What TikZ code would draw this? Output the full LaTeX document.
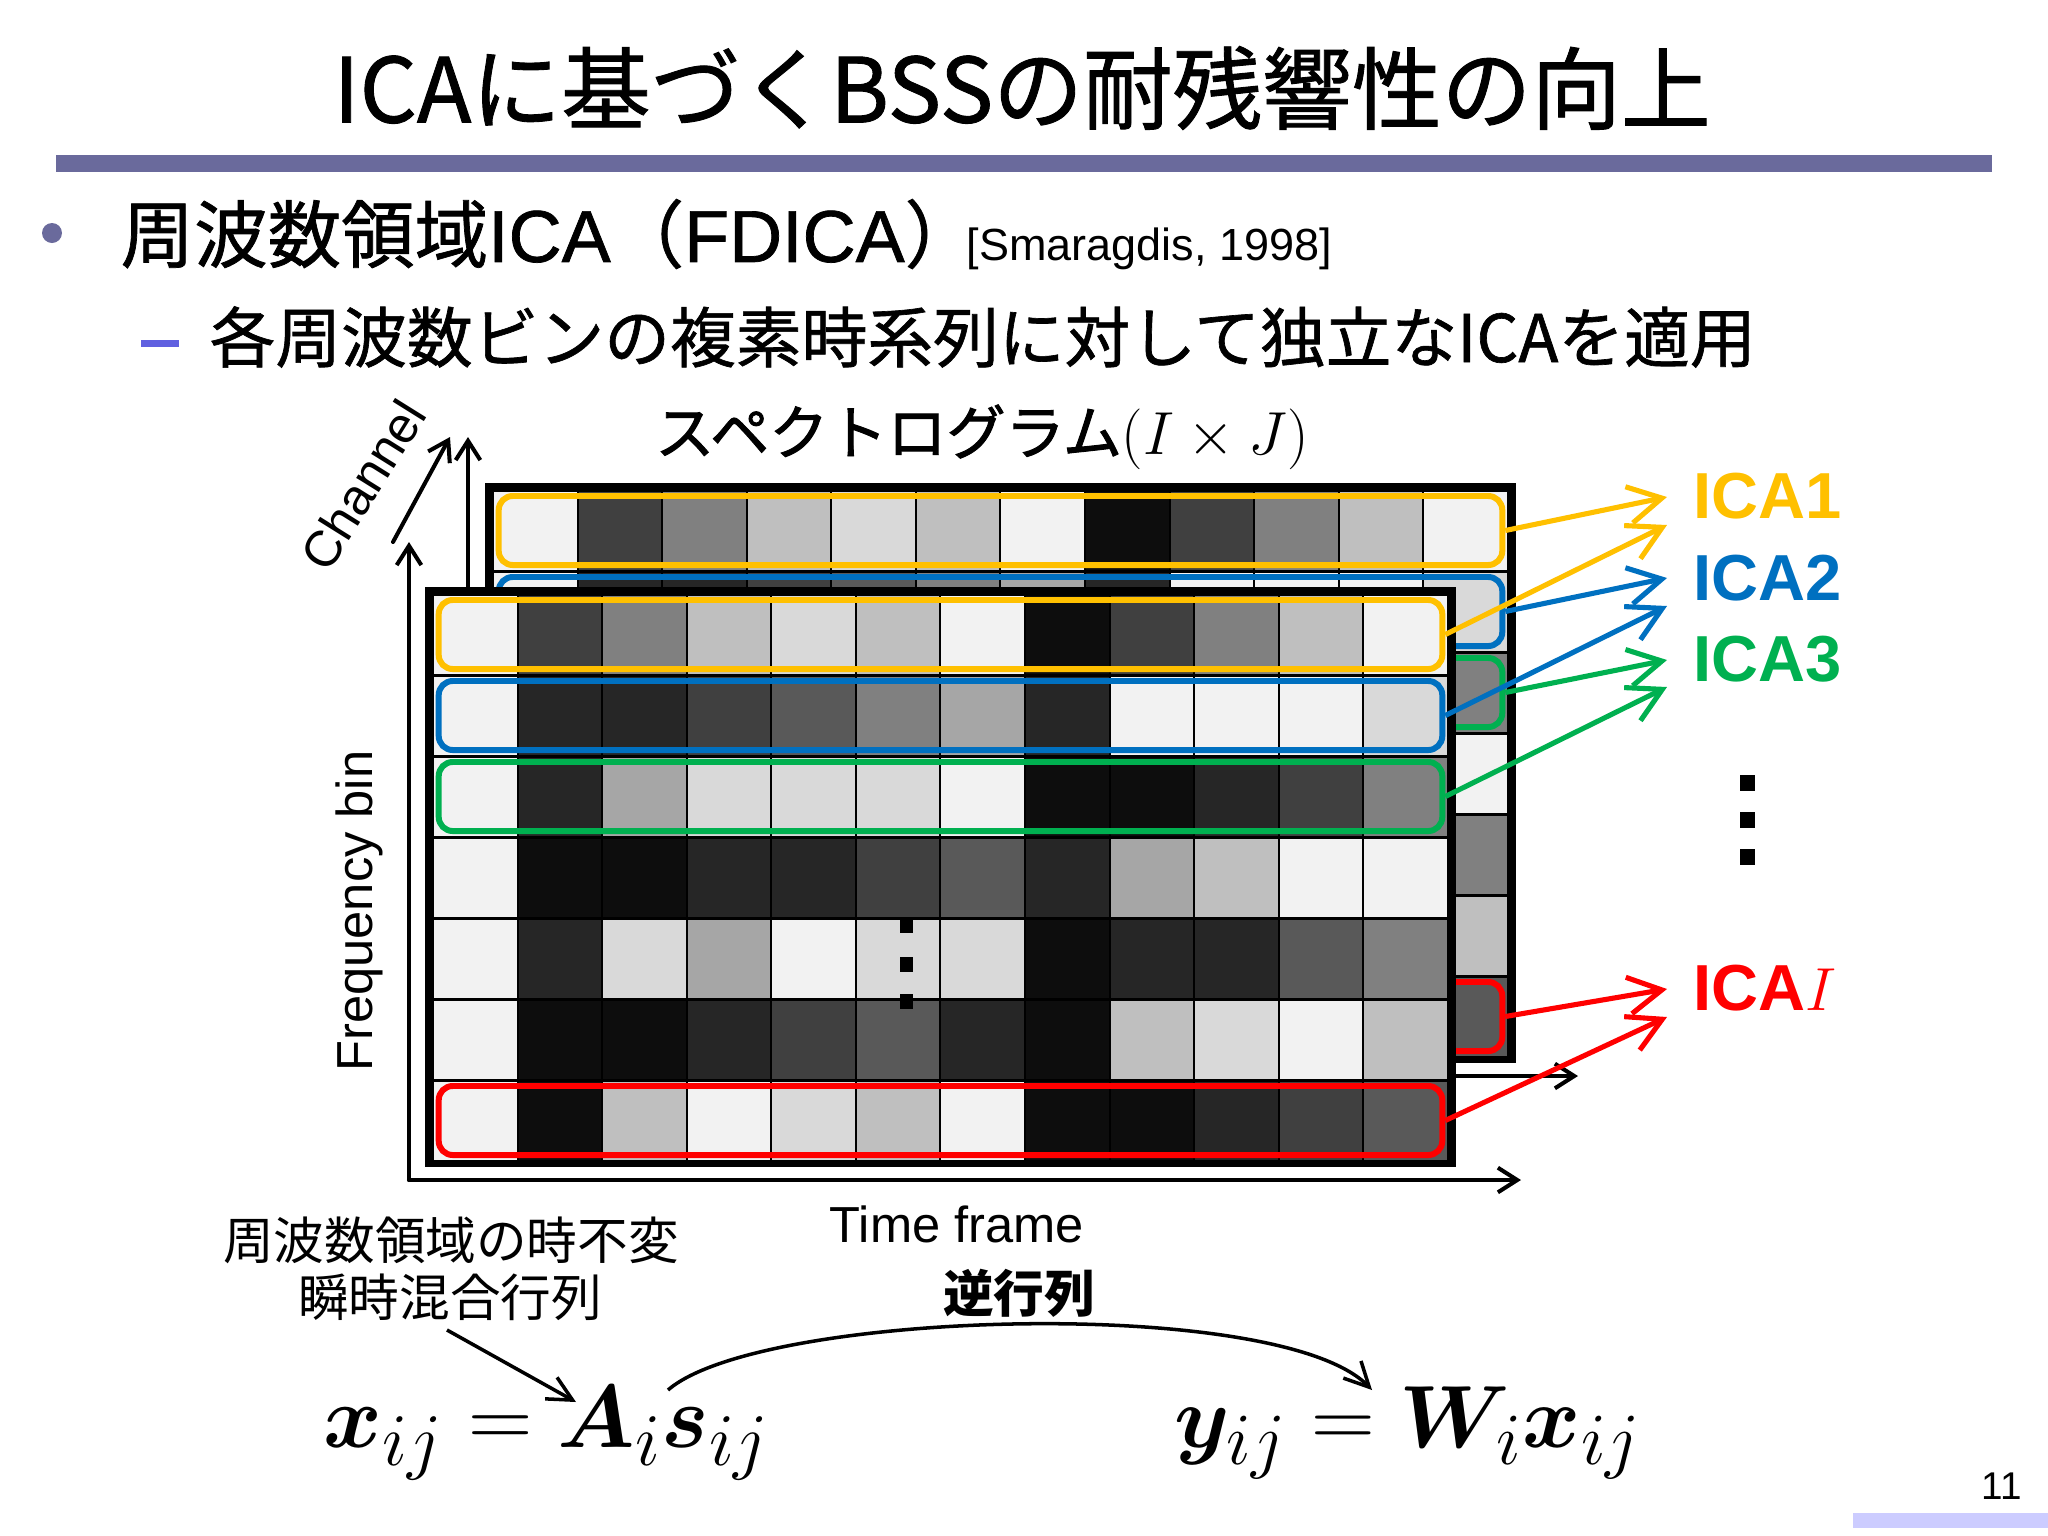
\documentclass[tikz,border=0pt]{standalone}
\usepackage{amsmath}
\usepackage{bm}
\usepackage{graphicx}
\usepackage{fontspec}
\newfontfamily\jp{Noto Sans CJK JP}
\newfontfamily\jpm[FakeBold=1]{Noto Sans CJK JP}
\newfontfamily\jpk[FakeBold=1.6]{Noto Sans CJK JP}
\newfontfamily\arial{Liberation Sans}
\newfontfamily\arialm[FakeBold=1]{Liberation Sans}
\usetikzlibrary{arrows.meta}
\definecolor{slate}{HTML}{6A6A9C}
\definecolor{dashc}{HTML}{6060E0}
\definecolor{pgbar}{HTML}{CCCCFF}
\definecolor{icay}{HTML}{FFC000}
\definecolor{icab}{HTML}{0070C0}
\definecolor{icag}{HTML}{00B050}
\definecolor{icar}{HTML}{FF0000}
\newcommand\fs[1]{\fontsize{#1pt}{#1pt}\selectfont}
\tikzset{
  axisarr/.style={line width=1.15pt, line cap=round, -{Straight Barb[length=5.5pt,width=7pt]}},
  icaarr/.style={line width=1.45pt, -{Straight Barb[length=9.5pt,width=10.5pt]}},
  thinarr/.style={line width=1pt, -{Straight Barb[length=7pt,width=7pt]}},
  rowbox/.style={draw, line width=1.7pt, rounded corners=4pt, minimum width=10.03cm, minimum height=0.69cm, inner sep=0pt},
  sqdot/.style={fill=black}
}
\newcommand\spgrid[2]{%
  \fill[black] ({425+#1},{587+#2}) rectangle ({1456+#1},{1167+#2});
  \foreach \ri/\vals in {1/{5,75,50,25,15,25,5,95,75,50,25,5},
                         2/{5,85,85,75,65,50,35,85,5,5,5,15},
                         3/{5,85,35,15,15,15,5,95,95,85,75,50},
                         4/{5,95,95,85,85,75,65,85,35,25,5,5},
                         5/{5,85,15,35,5,15,15,95,85,85,65,50},
                         6/{5,95,95,85,75,65,85,95,25,15,5,25},
                         7/{5,95,25,5,15,25,5,95,95,85,75,65}}{%
    \foreach \v [count=\ci] in \vals {%
      \fill[black!\v] ({433+#1+(\ci-1)*84.58+1},{594+#2+(\ri-1)*81+1.5}) rectangle ({433+#1+\ci*84.58-1},{594+#2+\ri*81-1.5});
    }%
  }%
}
\begin{document}
\begin{tikzpicture}[x=0.01cm, y=-0.01cm]
\useasboundingbox (0,0) rectangle (2048,1536);
\fill[white] (0,0) rectangle (2048,1536);

% title and bar
\node[inner sep=0, font=\jpm\fs{25.5}] (title) at (1022,88) {ICAに基づくBSSの耐残響性の向上};
\fill[slate] (56,155) rectangle (1992,172);

% bullets
\fill[slate] (52,233) circle[radius=10];
\node[anchor=west, inner sep=0, font=\jpm\fs{20.9}] (b1) at (120,234) {周波数領域{\arialm ICA}（{\arialm FDICA}）};
\node[anchor=base west, inner sep=0, font=\arial\fs{12.8}] (ref) at (966,260) {[Smaragdis, 1998]};
\fill[dashc] (141,340) rectangle (179,347);
\node[anchor=west, inner sep=0, font=\jpm\fs{18.7}] (b2) at (209,337) {各周波数ビンの複素時系列に対して独立なICAを適用};

% spectrogram title
\node[inner sep=0, font=\fs{16.8}] (spt) at (982,437) {{\jpk スペクトログラム}$(I\times J)$};

% ---- back layer
\spgrid{60}{-104}
\node[rowbox, icay] (byb) at (1000.5,530.5) {};
\node[rowbox, icab] (bbb) at (1000.5,611.5) {};
\node[rowbox, icag] (bgb) at (1000.5,692.5) {};
\node[rowbox, icar] (brb) at (1000.5,1016.5) {};
\coordinate (bo) at (468,1076);
\coordinate (bv) at (468,437);
\coordinate (bh) at (1578,1076);
\draw[axisarr] (bo) -- (bv);
\draw[axisarr] (bo) -- (bh);

% ---- front layer
\spgrid{0}{0}
\node[rowbox, icay] (fyb) at (940.5,634.5) {};
\node[rowbox, icab] (fbb) at (940.5,715.5) {};
\node[rowbox, icag] (fgb) at (940.5,796.5) {};
\node[rowbox, icar] (frb) at (940.5,1120.5) {};
\coordinate (fo) at (409,1180);
\coordinate (fv) at (409,542);
\coordinate (fh) at (1521,1180);
\draw[axisarr] (fo) -- (fv);
\draw[axisarr] (fo) -- (fh);
\coordinate (cs) at (393,542);
\coordinate (ce) at (450,437);
\draw[axisarr] (cs) -- (ce);

% dots in grid
\fill[sqdot] (899.5,919) rectangle (912.5,933);
\fill[sqdot] (899.5,957) rectangle (912.5,972);
\fill[sqdot] (899.5,994) rectangle (912.5,1009);

% axis labels
\node[inner sep=0, rotate=90, font=\arial\fs{14.4}] (fb) at (359,911) {Frequency bin};
\node[inner sep=0, rotate=58, font=\arial\fs{14.4}] (ch) at (363,485) {Channel};
\node[inner sep=0, font=\arial\fs{14.4}] (tf) at (957,1224) {Time frame};

% ICA labels
\node[anchor=west, inner sep=0, font=\arial\bfseries\fs{18.5}, text=icay] (L1) at (1693,496) {ICA1};
\node[anchor=west, inner sep=0, font=\arial\bfseries\fs{18.5}, text=icab] (L2) at (1693,578) {ICA2};
\node[anchor=west, inner sep=0, font=\arial\bfseries\fs{18.5}, text=icag] (L3) at (1693,659) {ICA3};
\node[anchor=west, inner sep=0, font=\arial\bfseries\fs{18.5}, text=icar] (LI) at (1693,988) {ICA$I$};

\coordinate (t1a) at (1667,497);
\coordinate (t1b) at (1667,525);
\coordinate (t2a) at (1667,578);
\coordinate (t2b) at (1667,606);
\coordinate (t3a) at (1667,660);
\coordinate (t3b) at (1667,687);
\coordinate (tIa) at (1667,989);
\coordinate (tIb) at (1667,1017);
\draw[icaarr, icay] (byb.east) -- (t1a);
\draw[icaarr, icay] (fyb.east) -- (t1b);
\draw[icaarr, icab] (bbb.east) -- (t2a);
\draw[icaarr, icab] (fbb.east) -- (t2b);
\draw[icaarr, icag] (bgb.east) -- (t3a);
\draw[icaarr, icag] (fgb.east) -- (t3b);
\draw[icaarr, icar] (brb.east) -- (tIa);
\draw[icaarr, icar] (frb.east) -- (tIb);

% right vertical dots
\fill[sqdot] (1740,775) rectangle (1755,791);
\fill[sqdot] (1740,812) rectangle (1755,828);
\fill[sqdot] (1740,849) rectangle (1755,865);

% annotations
\node[inner sep=0, font=\jp\fs{14.4}] (an1) at (451,1240) {周波数領域の時不変};
\node[inner sep=0, font=\jp\fs{14.4}] (an2) at (450,1297) {瞬時混合行列};
\node[inner sep=0, font=\jp\bfseries\fs{14.4}] (inv) at (1019,1293) {逆行列};

% equations
\node[anchor=base, inner sep=0, font=\fs{24.88}] (eq1) at (547,1447) {\scalebox{1.02}{$\bm{x}_{ij} = \bm{A}_{i}\bm{s}_{ij}$}};
\node[anchor=base, inner sep=0, font=\fs{24.88}] (eq2) at (1408,1447) {\scalebox{1.01}{$\bm{y}_{ij} = \bm{W}_{i}\bm{x}_{ij}$}};

\coordinate (aS) at (447,1330);
\coordinate (aE) at (576,1402);
\draw[thinarr] (aS) -- (aE);
\coordinate (cS) at (668,1390);
\coordinate (cE) at (1372,1390);
\draw[thinarr] (cS) .. controls (760,1310) and (1280,1295) .. (cE);

% page number and bar
\node[inner sep=0, font=\arial\fs{11}] (pg) at (2002,1486) {11};
\fill[pgbar] (1853,1513) rectangle (2048,1528);
\end{tikzpicture}
\end{document}
